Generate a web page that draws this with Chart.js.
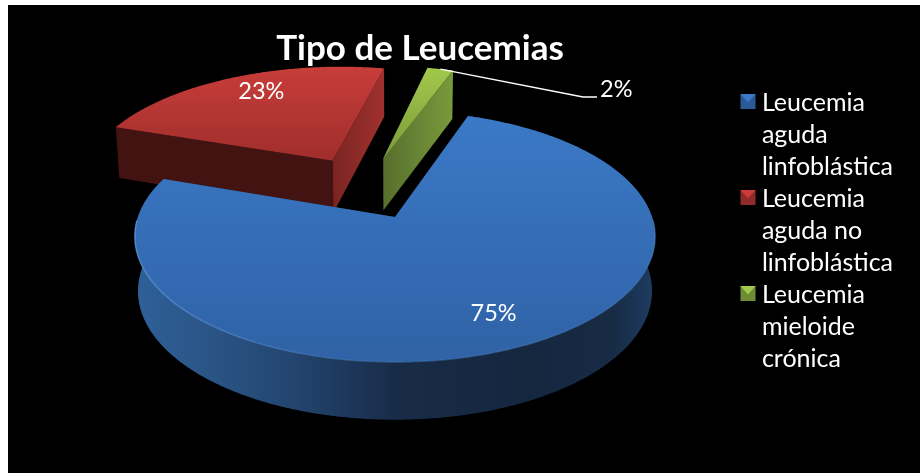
<!DOCTYPE html>
<html><head><meta charset="utf-8">
<style>
html,body{margin:0;padding:0;background:#fff;width:920px;height:473px;overflow:hidden}
#bg{position:absolute;left:8px;top:5px;width:912px;height:468px;background:#000}
#wrap{position:absolute;left:0;top:0;width:920px;height:473px}
</style>
<script src="https://cdn.jsdelivr.net/npm/chart.js@4"></script>
</head><body><div id="bg"></div><div id="wrap"><canvas id="c" width="920" height="473"></canvas></div>
<script>
const categories=[["Leucemia","aguda","linfoblástica"],["Leucemia","aguda no","linfoblástica"],["Leucemia","mieloide","crónica"]];
const shares=[75,23,2];
const sliceColors=["#3a74bf","#b83533","#90b544"];
const chartTitle="Tipo de Leucemias";

const FONT='Lato, "Noto Sans", sans-serif';
const O={x:395,y:217},A=122.5,B=257,P=0.155,EXPL=0.28,FIRST=19;
const RAD=[1,1.02,1];
const LABEL_POS=[[.5,.78],[.54,.79],null];
const topGrad=[["#3b79c6","#2f62a6"],["#c83d3a","#9f2e2c"],["#a2c84c","#7c9a3a"]];
const rimStops=[[0,"#2f6099"],[.15,"#2a5485"],[.3,"#234570"],[.5,"#182c48"],[.75,"#15273f"],[.92,"#172b45"],[1,"#1e3d63"]];
const startFace=["#1a2f4e","#431311","#5a7530"];
const endFace=[["#1a2f4e","#1a2f4e"],["#7a2523","#a0312e"],["#566f2d","#7a9a3c"]];

function proj(u,v,z){const w=1-P*v;return {x:O.x+B*u/w*(1-0.012*z),y:O.y+A*v/w+z*(54+3.75*v)};}
function geom(arc,center,i){
  const mid=(arc.startAngle+arc.endAngle)/2;
  const cu=-EXPL*Math.cos(center),cv=-EXPL*Math.sin(center);
  const ou=cu+EXPL*Math.cos(mid),ov=cv+EXPL*Math.sin(mid);
  const R=RAD[i];
  const rim=(a,z=0,r=1)=>proj(ou+R*r*Math.cos(a),ov+R*r*Math.sin(a),z);
  const tip=(z=0)=>proj(ou,ov,z);
  return {mid,rim,tip};
}
function samples(a0,a1){const n=Math.max(4,Math.ceil(Math.abs(a1-a0)/0.01));const r=[];for(let i=0;i<=n;i++)r.push(a0+(a1-a0)*i/n);return r;}
function lin(ctx,x0,y0,x1,y1,stops){const g=ctx.createLinearGradient(x0,y0,x1,y1);stops.forEach(s=>g.addColorStop(s[0],s[1]));return g;}
function poly(ctx,pts,fill){ctx.beginPath();pts.forEach((p,i)=>i?ctx.lineTo(p.x,p.y):ctx.moveTo(p.x,p.y));ctx.closePath();ctx.fillStyle=fill;ctx.fill();}

const pie3d={id:'pie3d',
 afterLayout(chart){const t=chart.titleBlock;if(t){t.left=0;t.right=840;t.width=840;}},
 beforeDatasetsDraw(chart){
  const ctx=chart.ctx,arcs=chart.getDatasetMeta(0).data;
  const blueMid=(arcs[0].startAngle+arcs[0].endAngle)/2;
  ctx.save();
  [1,2,0].forEach(i=>{
    const a=arcs[i],g=geom(a,blueMid,i),as=samples(a.startAngle,a.endAngle);
    const s=a.startAngle,e=a.endAngle;
    const sf=[g.tip(0),g.rim(s,0),g.rim(s,1),g.tip(1)];
    const ef=[g.tip(0),g.rim(e,0),g.rim(e,1),g.tip(1)];
    poly(ctx,sf,startFace[i]);
    poly(ctx,ef,lin(ctx,g.tip(0).x,0,g.rim(e,0).x,0,[[0,endFace[i][0]],[1,endFace[i][1]]]));
    if(i===0){
      const wall=as.map(t=>g.rim(t,0)).concat(as.slice().reverse().map(t=>g.rim(t,1)));
      const xs=wall.map(p=>p.x);
      poly(ctx,wall,lin(ctx,Math.min(...xs),0,Math.max(...xs),0,rimStops));
    }
    const top=[g.tip(0)].concat(as.map(t=>g.rim(t,0)));
    const ys=top.map(p=>p.y);
    poly(ctx,top,lin(ctx,0,Math.min(...ys),0,Math.max(...ys),[[0,topGrad[i][0]],[1,topGrad[i][1]]]));
    if(i===0){
      ctx.beginPath();let on=false;
      as.forEach(t=>{if(Math.sin(t)<0.02)return;const p=g.rim(t,0);on?ctx.lineTo(p.x,p.y):ctx.moveTo(p.x,p.y);on=true;});
      ctx.strokeStyle=lin(ctx,134,0,654,0,[[0,"rgba(95,155,225,.7)"],[.5,"rgba(70,125,190,.45)"],[1,"rgba(80,135,200,.45)"]]);
      ctx.lineWidth=1.5;ctx.stroke();
    }
  });
  ctx.font='23.5px '+FONT;ctx.fillStyle='#fff';ctx.textBaseline='middle';ctx.textAlign='center';
  arcs.forEach((a,i)=>{
    const g=geom(a,blueMid,i);
    const txt=shares[i]+'%';
    if(LABEL_POS[i]!==null){
      const t=a.startAngle+(a.endAngle-a.startAngle)*LABEL_POS[i][0];
      const p=g.rim(t,0,LABEL_POS[i][1]);ctx.fillText(txt,p.x,p.y);
    }else{
      const p=g.rim(g.mid,0,1);
      ctx.beginPath();ctx.moveTo(p.x,p.y);ctx.lineTo(583,97);ctx.lineTo(597,97);ctx.strokeStyle='#fff';ctx.lineWidth=1.3;ctx.stroke();
      ctx.textAlign='left';ctx.fillText(txt,600,89);
    }
  });
  ctx.restore();
  return false;
 },
 afterDraw(chart){
  const ctx=chart.ctx,l=chart.legend;
  l.legendHitBoxes.forEach((h,i)=>{
    const x=740.5,y=h.top+4,s=15;
    ctx.fillStyle=['#2b5a96','#8f2b29','#6f8c35'][i];ctx.fillRect(x,y,s,s);
    ctx.fillStyle=topGrad[i][0];ctx.beginPath();ctx.moveTo(x,y);ctx.lineTo(x+s,y);ctx.lineTo(x+s/2,y+s/2+1);ctx.closePath();ctx.fill();
  });
 }
};
Chart.register(pie3d);
new Chart(document.getElementById('c'),{type:'pie',
 data:{labels:categories,datasets:[{data:shares,backgroundColor:sliceColors,borderWidth:0}]},
 options:{responsive:false,animation:false,rotation:FIRST,
  layout:{padding:{right:17,top:0,left:0,bottom:5}},
  plugins:{
   title:{display:true,text:chartTitle,color:'#fff',font:{family:FONT,size:35,weight:'bold',lineHeight:1.2},padding:{top:28,bottom:0}},
   legend:{display:true,position:'right',align:'center',
    labels:{color:'#fff',boxWidth:7.5,boxHeight:7.5,padding:0,font:{family:FONT,size:25,lineHeight:32/25}}},
   tooltip:{enabled:false}
  }}});
</script></body></html>
